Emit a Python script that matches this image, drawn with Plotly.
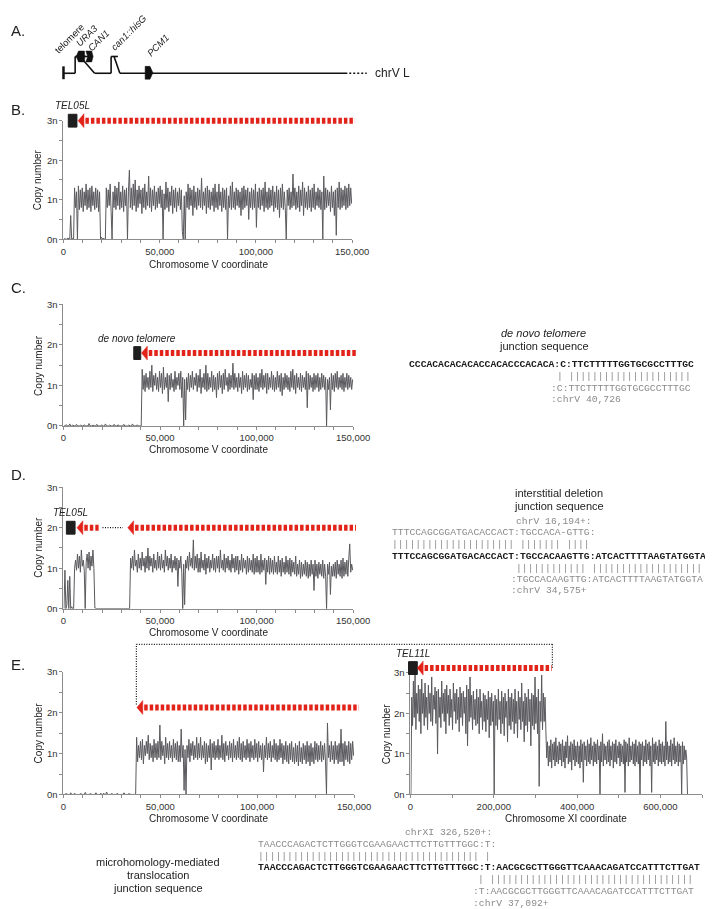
import numpy as np
import plotly.graph_objects as go

W, H = 713, 909

# ---------------- data ----------------
chrV_bins = np.arange(250, 150000, 500)       # 0.5 kb bins along chrV (0-150 kb)
chrXI_bins = np.arange(1000, 667000, 2000)    # 2 kb bins along chrXI (0-666 kb)

B_copy = [
    0.0, 0.02, 0.0, 0.0, 0.03, 0.0, 0.0, 0.6, 0.0, 0.02, 0.0, 1.3, 0.8, 1.2, 0.0, 1.35, 0.75, 1.25, 0.8, 1.3,
    0.7, 1.2, 0.85, 1.4, 0.75, 1.25, 0.8, 1.3, 0.7, 1.35, 0.85, 1.2, 0.75, 1.3, 0.8, 1.25, 0.7, 1.2, 0.0, 0.05,
    0.0, 0.03, 0.0, 0.0, 1.3, 0.8, 1.25, 0.85, 1.4, 0.7, 0.0, 1.2, 0.8, 1.35, 0.75, 1.3, 0.85, 1.45, 0.75, 1.2,
    0.8, 1.35, 0.7, 1.25, 0.85, 1.3, 0.0, 1.2, 1.75, 0.8, 1.3, 0.75, 1.4, 0.85, 1.5, 0.7, 1.25, 0.8, 1.35, 0.9,
    1.25, 0.65, 1.3, 0.8, 1.4, 0.75, 1.2, 0.85, 1.6, 0.8, 1.3, 0.7, 1.25, 0.85, 1.35, 0.75, 1.2, 0.8, 1.3, 0.9,
    1.35, 0.8, 1.25, 0.0, 1.15, 0.75, 1.45, 0.8, 1.3, 0.7, 1.2, 0.85, 1.35, 0.65, 1.25, 0.8, 1.3, 0.7, 1.2, 0.85,
    1.3, 0.75, 1.25, 0.2, 0.0, 1.1, 0.0, 1.2, 0.8, 1.4, 0.75, 1.3, 0.85, 1.25, 0.6, 1.35, 0.8, 1.2, 0.75, 1.3,
    0.85, 1.25, 0.8, 1.55, 0.75, 1.2, 0.85, 1.3, 0.65, 1.35, 0.8, 1.25, 0.75, 1.2, 0.85, 1.3, 0.7, 1.4, 0.8, 1.2,
    0.75, 1.4, 0.85, 1.2, 0.7, 1.3, 0.8, 1.25, 0.75, 1.3, 0.0, 1.1, 0.8, 1.35, 0.75, 1.45, 0.8, 1.2, 0.75, 1.3,
    0.85, 1.25, 0.8, 1.2, 0.6, 1.3, 0.75, 1.35, 0.8, 1.25, 0.85, 1.3, 0.5, 1.2, 0.8, 1.3, 0.75, 1.25, 0.8, 1.4,
    0.3, 1.2, 0.8, 1.3, 0.75, 1.25, 0.85, 1.3, 0.7, 1.45, 0.8, 1.2, 0.75, 1.3, 0.8, 1.25, 0.85, 1.35, 0.7, 1.2,
    0.8, 1.35, 0.75, 1.25, 0.55, 1.3, 0.8, 1.4, 0.75, 1.2, 0.8, 0.0, 1.25, 0.85, 1.3, 0.75, 1.2, 0.8, 1.65, 0.85,
    1.3, 0.75, 1.2, 0.8, 1.35, 0.7, 1.25, 0.85, 1.45, 0.6, 1.3, 0.8, 1.2, 0.75, 1.35, 0.8, 1.25, 0.7, 1.3, 0.8,
    1.4, 0.75, 1.2, 0.85, 1.3, 0.8, 1.25, 0.75, 1.2, 0.0, 1.6, 0.75, 1.3, 0.8, 1.25, 0.85, 1.2, 0.7, 1.35, 0.8,
    1.2, 0.6, 1.25, 0.1, 1.3, 0.8, 1.45, 0.75, 1.3, 0.8, 1.25, 0.85, 1.35, 0.75, 1.3, 0.8, 1.4, 0.85, 1.3, 0.9,
]

C_copy = [
    0.0, 0.0, 0.03, 0.0, 0.0, 0.0, 0.05, 0.0, 0.0, 0.02, 0.0, 0.0, 0.0, 0.04, 0.0, 0.0, 0.0, 0.02, 0.0, 0.0,
    0.0, 0.03, 0.0, 0.0, 0.0, 0.0, 0.06, 0.0, 0.0, 0.0, 0.02, 0.0, 0.0, 0.0, 0.04, 0.0, 0.0, 0.0, 0.0, 0.03,
    0.0, 0.0, 0.0, 0.05, 0.0, 0.0, 0.0, 0.02, 0.0, 0.0, 0.0, 0.0, 0.04, 0.0, 0.0, 0.0, 0.03, 0.0, 0.0, 0.0,
    0.0, 0.0, 0.04, 0.0, 0.0, 0.0, 0.0, 0.02, 0.0, 0.0, 0.0, 0.05, 0.0, 0.0, 0.0, 0.0, 0.03, 0.0, 0.0, 0.0,
    0.0, 1.4, 0.9, 1.25, 0.85, 1.3, 0.95, 1.2, 0.9, 1.35, 0.95, 1.5, 0.85, 1.25, 1.0, 1.3, 0.9, 1.2, 0.85, 1.35,
    0.95, 1.3, 0.8, 1.45, 0.9, 1.2, 0.95, 1.3, 0.6, 1.25, 0.9, 1.3, 0.95, 1.15, 0.85, 1.35, 0.9, 1.2, 1.0, 1.3,
    0.9, 1.35, 0.7, 1.2, 0.0, 1.15, 0.15, 1.2, 0.9, 1.3, 0.85, 1.25, 0.95, 1.35, 0.9, 1.2, 1.0, 1.3, 0.85, 1.25,
    0.95, 1.4, 0.8, 1.2, 0.95, 1.3, 0.9, 1.5, 0.85, 1.3, 0.9, 1.2, 0.95, 1.35, 0.85, 1.25, 0.9, 1.2, 0.7, 1.3,
    0.9, 1.35, 0.95, 1.25, 0.8, 1.3, 0.9, 1.4, 1.0, 1.2, 0.85, 1.3, 0.9, 1.25, 0.95, 1.55, 0.9, 1.3, 0.95, 1.2,
    0.85, 1.3, 0.95, 1.2, 0.8, 1.35, 0.9, 1.25, 0.95, 1.3, 0.85, 1.25, 0.9, 1.15, 0.95, 1.3, 0.65, 1.25, 0.9, 1.3,
    0.9, 1.2, 0.85, 1.3, 0.95, 1.4, 0.9, 1.25, 0.95, 1.3, 0.8, 1.3, 0.9, 1.2, 0.95, 1.35, 0.9, 1.25, 0.85, 1.2,
    0.9, 1.35, 0.95, 1.25, 0.85, 1.3, 0.75, 1.2, 0.9, 1.3, 0.95, 1.25, 0.9, 1.2, 0.85, 1.35, 0.95, 1.4, 0.9, 1.25,
    0.8, 1.3, 0.95, 1.2, 0.9, 1.3, 0.85, 1.25, 0.95, 1.2, 0.9, 1.35, 0.45, 1.3, 0.9, 1.25, 0.95, 1.2, 0.85, 1.3,
    0.9, 1.25, 0.95, 1.3, 0.85, 1.2, 0.9, 1.3, 0.95, 1.25, 0.9, 1.2, 0.0, 1.15, 0.9, 1.2, 0.4, 1.3, 0.9, 1.25,
    0.85, 1.3, 0.95, 1.35, 0.9, 1.2, 0.95, 1.25, 0.9, 1.3, 0.85, 1.2, 0.95, 1.3, 0.9, 1.25, 0.95, 1.2, 0.9, 1.15,
]

D_copy = [
    0.0, 0.95, 0.0, 0.1, 0.7, 0.0, 0.8, 0.0, 0.05, 0.0, 0.0, 1.0, 1.2, 0.95, 1.35, 1.0, 1.3, 0.9, 1.45, 1.05,
    1.2, 0.95, 0.0, 1.15, 1.35, 1.0, 1.4, 0.95, 1.3, 1.05, 1.45, 1.0, 0.02, 0.0, 0.0, 0.0, 0.0, 0.0, 0.0, 0.0,
    0.0, 0.0, 0.0, 0.0, 0.0, 0.0, 0.0, 0.0, 0.0, 0.0, 0.0, 0.0, 0.0, 0.0, 0.0, 0.0, 0.0, 0.0, 0.0, 0.0,
    0.0, 0.0, 0.0, 0.0, 0.0, 0.0, 0.0, 0.0, 0.0, 1.25, 1.0, 1.3, 0.95, 1.45, 1.05, 1.2, 0.9, 1.35, 1.0, 1.25,
    0.95, 1.4, 1.05, 1.25, 0.9, 1.3, 1.0, 1.5, 0.95, 1.3, 1.05, 1.25, 0.9, 1.35, 1.0, 1.2, 0.95, 1.4, 1.0, 1.3,
    0.95, 1.35, 1.0, 1.2, 0.9, 1.45, 1.05, 1.3, 0.95, 1.25, 1.0, 1.35, 0.9, 1.2, 1.0, 1.3, 0.95, 1.25, 0.55, 1.2,
    1.0, 1.3, 0.9, 0.0, 1.1, 0.1, 1.2, 1.0, 1.3, 0.95, 1.4, 1.05, 1.25, 1.0, 1.7, 0.95, 1.3, 1.0, 1.35, 0.9,
    1.25, 0.9, 1.4, 1.0, 1.2, 0.95, 1.35, 0.85, 1.25, 1.0, 1.3, 0.9, 1.2, 1.0, 1.35, 0.95, 1.25, 0.9, 1.3, 1.0,
    1.3, 0.9, 1.45, 1.0, 1.2, 0.95, 1.35, 0.9, 1.25, 1.0, 1.3, 0.95, 1.2, 0.9, 1.35, 1.0, 1.25, 0.9, 1.3, 0.95,
    1.3, 0.85, 1.2, 0.95, 1.35, 0.9, 1.25, 1.0, 1.2, 0.85, 1.3, 0.9, 1.25, 0.95, 1.2, 0.9, 1.35, 0.85, 1.25, 0.9,
    1.3, 0.9, 1.2, 0.85, 1.35, 0.9, 1.2, 0.95, 1.25, 0.6, 1.2, 0.9, 1.3, 0.85, 1.25, 0.9, 1.2, 0.85, 1.3, 0.9,
    1.15, 0.85, 1.3, 0.9, 1.2, 0.8, 1.25, 0.9, 1.15, 0.85, 1.3, 0.9, 1.2, 0.85, 1.25, 0.8, 1.2, 0.9, 1.15, 0.85,
    1.3, 0.8, 1.1, 0.85, 1.2, 0.75, 1.15, 0.8, 1.1, 0.85, 1.2, 0.8, 1.15, 0.75, 1.1, 0.8, 1.2, 0.85, 1.1, 0.45,
    1.2, 0.8, 1.1, 0.75, 1.15, 0.85, 1.1, 0.8, 1.2, 0.75, 1.1, 0.8, 0.0, 1.1, 0.85, 1.15, 0.35, 1.05, 0.8, 1.1,
    0.8, 1.15, 0.75, 1.2, 0.85, 1.1, 0.8, 1.2, 0.75, 1.25, 0.8, 1.15, 0.85, 1.2, 0.8, 1.25, 1.6, 0.9, 1.1, 0.95,
]

E_chrV_copy = [
    0.0, 0.0, 0.02, 0.0, 0.0, 0.0, 0.0, 0.04, 0.0, 0.0, 0.0, 0.03, 0.0, 0.0, 0.0, 0.0, 0.0, 0.02, 0.0, 0.0,
    0.0, 0.0, 0.05, 0.0, 0.0, 0.0, 0.0, 0.02, 0.0, 0.0, 0.0, 0.0, 0.0, 0.04, 0.0, 0.0, 0.0, 0.0, 0.03, 0.0,
    0.0, 0.03, 0.0, 0.0, 0.06, 0.0, 0.0, 0.0, 0.0, 0.02, 0.0, 0.0, 0.0, 0.0, 0.0, 0.03, 0.0, 0.0, 0.0, 0.0,
    0.0, 0.0, 0.04, 0.0, 0.0, 0.0, 0.0, 0.02, 0.0, 0.0, 0.0, 0.0, 0.0, 0.0, 0.0, 1.4, 0.8, 1.2, 0.9, 1.3,
    0.85, 1.35, 0.75, 1.2, 0.95, 1.3, 1.0, 1.45, 0.85, 1.25, 0.9, 1.2, 0.8, 1.35, 0.9, 1.25, 0.85, 1.3, 0.9, 1.7,
    0.85, 1.3, 0.95, 1.2, 0.75, 1.4, 0.9, 1.25, 0.85, 1.3, 0.9, 1.2, 0.8, 1.35, 0.9, 1.25, 0.85, 1.3, 0.8, 1.2,
    0.8, 1.6, 0.9, 1.2, 0.1, 1.1, 0.0, 1.2, 0.9, 1.35, 0.8, 1.25, 0.95, 1.3, 0.85, 1.2, 0.9, 1.4, 0.85, 1.25,
    0.9, 1.4, 0.85, 1.2, 0.9, 1.3, 0.75, 1.25, 0.8, 1.2, 0.9, 1.35, 0.6, 1.25, 0.9, 1.3, 0.85, 1.2, 0.9, 1.35,
    0.85, 1.2, 0.9, 1.45, 0.85, 1.25, 0.8, 1.3, 0.95, 1.2, 0.85, 1.3, 0.9, 1.25, 0.8, 1.35, 0.9, 1.2, 0.85, 1.3,
    0.9, 1.4, 0.85, 1.25, 0.8, 1.3, 0.9, 1.2, 0.85, 1.35, 0.9, 1.25, 0.8, 1.3, 0.9, 1.2, 0.85, 1.35, 0.9, 1.25,
    0.8, 1.3, 0.9, 1.2, 0.85, 1.25, 0.55, 1.2, 0.9, 1.4, 0.85, 1.25, 0.9, 1.3, 0.8, 1.2, 0.9, 1.35, 0.85, 1.25,
    0.8, 1.2, 0.85, 1.35, 0.9, 1.25, 0.75, 1.2, 0.85, 1.3, 0.8, 1.2, 0.75, 1.25, 0.85, 1.3, 0.8, 1.15, 0.75, 1.25,
    0.8, 1.2, 0.7, 1.3, 0.8, 1.15, 0.75, 1.25, 0.85, 1.2, 0.75, 1.3, 0.8, 1.2, 0.7, 1.25, 0.8, 1.15, 0.75, 1.3,
    0.85, 1.25, 0.8, 1.2, 0.85, 1.3, 0.8, 1.2, 0.85, 1.25, 0.8, 0.0, 1.75, 0.9, 1.2, 0.8, 1.3, 0.85, 1.2, 0.75,
    1.3, 0.85, 1.2, 0.75, 1.25, 0.8, 1.6, 0.8, 1.25, 0.7, 1.3, 0.85, 1.2, 0.8, 1.3, 0.75, 1.25, 0.85, 1.3, 0.95,
]

E_chrXI_copy = [
    0.0, 2.4, 1.7, 2.8, 1.9, 2.95, 1.6, 2.5, 2.0, 2.7, 1.8, 2.6, 1.5, 2.85, 2.0, 2.5, 1.7, 2.75, 1.9, 2.4,
    1.6, 2.7, 2.0, 2.5, 1.8, 2.9, 1.7, 2.45, 2.1, 2.65, 1.75, 2.55, 1.0, 2.6, 1.9, 2.4, 1.65, 2.8, 2.0, 2.5,
    1.8, 2.6, 1.5, 2.7, 2.0, 2.45, 1.7, 2.6, 1.9, 2.35, 1.6, 2.75, 2.05, 2.5, 1.75, 2.6, 1.85, 2.4, 1.55, 2.65,
    1.9, 2.5, 1.7, 2.55, 2.0, 2.4, 1.5, 2.7, 1.2, 2.6, 1.8, 2.9, 1.9, 2.45, 1.6, 2.55, 1.85, 2.35, 1.7, 2.6,
    1.75, 2.4, 1.5, 2.6, 1.9, 2.3, 1.6, 2.5, 1.8, 2.45, 1.55, 2.35, 1.85, 2.55, 1.4, 2.4, 1.7, 2.5, 1.8, 2.3,
    0.0, 2.45, 1.7, 2.35, 1.6, 2.6, 1.85, 2.3, 1.5, 2.55, 1.75, 2.4, 1.45, 2.5, 1.9, 2.3, 1.3, 2.6, 1.7, 2.4,
    1.6, 2.5, 1.8, 2.35, 1.5, 2.6, 1.75, 2.3, 1.4, 2.55, 1.85, 2.4, 1.6, 2.75, 1.8, 2.3, 1.3, 2.5, 1.7, 2.4,
    1.55, 2.6, 1.8, 2.35, 1.2, 2.5, 1.7, 2.45, 1.6, 2.9, 1.75, 2.4, 1.5, 2.6, 0.2, 2.3, 1.8, 2.95, 1.6, 2.5,
    1.8, 2.4, 1.6, 0.9, 1.3, 0.7, 1.2, 0.8, 1.35, 0.65, 1.25, 0.85, 1.3, 0.7, 1.4, 0.8, 1.2, 0.75, 1.3, 0.85,
    1.25, 0.7, 1.35, 0.8, 1.2, 0.65, 1.3, 0.9, 1.45, 0.75, 1.2, 0.8, 1.3, 0.6, 1.25, 0.85, 1.35, 0.7, 1.2, 0.8,
    1.3, 0.75, 1.2, 0.65, 1.35, 0.8, 1.25, 0.3, 1.3, 0.85, 1.2, 0.7, 1.35, 0.8, 1.25, 0.75, 1.4, 0.85, 1.2, 0.7,
    1.3, 0.8, 1.25, 0.75, 1.35, 0.85, 1.2, 0.0, 1.3, 0.8, 1.5, 0.7, 1.25, 0.85, 1.2, 0.75, 1.3, 0.8, 1.35, 0.7,
    1.2, 0.85, 1.3, 0.65, 1.25, 0.8, 1.35, 0.75, 1.2, 0.9, 1.3, 0.7, 1.25, 0.8, 1.2, 0.75, 1.35, 0.05, 1.3, 0.8,
    1.25, 0.7, 1.4, 0.8, 1.2, 0.85, 1.3, 0.75, 1.25, 0.7, 1.35, 0.8, 1.2, 0.75, 1.3, 0.0, 1.25, 0.85, 1.3, 0.7,
    1.2, 0.8, 1.35, 0.75, 1.25, 0.85, 1.3, 0.7, 1.2, 0.05, 1.4, 0.8, 1.25, 0.75, 1.3, 0.85, 1.2, 0.7, 1.35, 0.8,
    1.25, 0.75, 1.3, 0.8, 1.2, 0.7, 1.8, 0.85, 1.3, 0.75, 1.2, 0.8, 1.35, 0.7, 1.25, 0.85, 1.4, 0.75, 1.2, 0.8,
    1.3, 0.7, 1.25, 0.8, 1.2, 0.0, 1.3, 0.75, 1.2, 0.85, 1.1, 0.9, 0.0,
]

copy_ticks = [0, 1, 2, 3]
copy_labels = ["0n", "1n", "2n", "3n"]
chrV_ticks = [0, 50000, 100000, 150000]
chrV_labels = ["0", "50,000", "100,000", "150,000"]
chrXI_ticks = [0, 200000, 400000, 600000]
chrXI_labels = ["0", "200,000", "400,000", "600,000"]

# telomere blocks (bp start, bp end, copy level); retained-arm arrows (tip bp, end bp, copy level)
B_tel = (2500, 7000, 3.0)
B_arrow = (7600, 151500, 3.0)
C_tel = (36400, 40000, 1.8)
C_arrow = (40400, 152000, 1.8)
D_tel = (1500, 6000, 2.0)
D_arrows = [(7000, 18200, 2.0), (33300, 151500, 2.0)]
D_gap = (20200, 30800, 2.0)
E_arrow_V = (37900, 152500, 2.13)
E_tel_XI = (-4700, 16400, 3.12)
E_arrow_XI = (16400, 339000, 3.12)

# junction sequences
C_junction = "CCCACACACACACCACACCCACACA:C:TTCTTTTTGGTGCGCCTTTGC"
C_match = "| " + "|" * 21
C_ref = ":C:TTCTTTTTGGTGCGCCTTTGC"
C_ref_pos = ":chrV 40,726"

D_up_pos = "chrV 16,194+:"
D_up = "TTTCCAGCGGATGACACCACT:TGCCACA-GTTG:"
D_match1 = "|" * 21 + " " + "|" * 7 + " " + "|" * 4
D_junction = "TTTCCAGCGGATGACACCACT:TGCCACAAGTTG:ATCACTTTTAAGTATGGTA"
D_match2 = "|" * 12 + " " + "|" * 19
D_down = ":TGCCACAAGTTG:ATCACTTTTAAGTATGGTA"
D_down_pos = ":chrV 34,575+"

E_up_pos = "chrXI 326,520+:"
E_up = "TAACCCAGACTCTTGGGTCGAAGAACTTCTTGTTTGGC:T:"
E_match1 = "|" * 38 + " |"
E_junction = "TAACCCAGACTCTTGGGTCGAAGAACTTCTTGTTTGGC:T:AACGCGCTTGGGTTCAAACAGATCCATTTCTTGAT"
E_match2 = "| " + "|" * 35
E_down = ":T:AACGCGCTTGGGTTCAAACAGATCCATTTCTTGAT"
E_down_pos = ":chrV 37,092+"

# ---------------- styling ----------------
SANS = "Arial, Liberation Sans, Helvetica, sans-serif"
MONO = "Liberation Mono, Courier New, monospace"
RED = "#e2231a"
TRACE = "#5a5a5e"
AXIS = "#8c8c8c"
GRAY_TXT = "#8a8a8a"
CHAR_W = 5.82
MONO_SIZE = 9.7

fig = go.Figure()

axis_style = dict(showline=True, linecolor=AXIS, linewidth=1, ticks="outside", ticklen=3,
                  tickcolor=AXIS, tickwidth=1, showgrid=False, zeroline=False,
                  tickfont=dict(size=9.5, color="#333", family=SANS), fixedrange=True)


def main_axes(n, box, xr, xticks, xlabels, minor_dx):
    x0, x1, y0, y1 = box
    s = "" if n == 1 else str(n)
    fig.update_layout(**{
        f"xaxis{s}": dict(domain=[x0 / W, x1 / W], range=list(xr), anchor=f"y{s}",
                          tickmode="array", tickvals=xticks, ticktext=xlabels,
                          minor=dict(tickmode="linear", tick0=0, dtick=minor_dx, ticks="outside",
                                     ticklen=3, tickcolor=AXIS),
                          **axis_style),
        f"yaxis{s}": dict(domain=[1 - y1 / H, 1 - y0 / H], range=[0, 3], anchor=f"x{s}",
                          tickmode="array", tickvals=copy_ticks, ticktext=copy_labels,
                          minor=dict(tickmode="linear", tick0=0, dtick=0.5, ticks="outside",
                                     ticklen=3, tickcolor=AXIS),
                          **axis_style),
    })


def overlay_axes(n, box, xr, pad=(22, 12, 26, 2)):
    # invisible axes with the panel's scale but a larger box, so arrows and blocks are not clipped
    x0, x1, y0, y1 = box
    l, r, t, b = pad
    r = min(r, W - x1)
    sx = (xr[1] - xr[0]) / (x1 - x0)
    sy = 3.0 / (y1 - y0)
    fig.update_layout(**{
        f"xaxis{n}": dict(domain=[(x0 - l) / W, (x1 + r) / W],
                          range=[xr[0] - l * sx, xr[1] + r * sx], anchor=f"y{n}",
                          visible=False, fixedrange=True),
        f"yaxis{n}": dict(domain=[1 - (y1 + b) / H, 1 - (y0 - t) / H],
                          range=[-b * sy, 3 + t * sy], anchor=f"x{n}",
                          visible=False, fixedrange=True),
    })
    return sx, sy


def copy_trace(n, x, y):
    s = "" if n == 1 else str(n)
    fig.add_trace(go.Scatter(x=x, y=y, mode="lines", line=dict(color=TRACE, width=1),
                             xaxis=f"x{s}", yaxis=f"y{s}", hoverinfo="skip"))


def red_arrow(n, arrow, sx, sy):
    tip, end, y = arrow
    hw, hh = 6 * sx, 7 * sy
    fig.add_trace(go.Scatter(x=[tip + hw + 1.5 * sx, end], y=[y, y], mode="lines",
                             line=dict(color=RED, width=6, dash="3.5px,2px"),
                             xaxis=f"x{n}", yaxis=f"y{n}", hoverinfo="skip"))
    fig.add_trace(go.Scatter(x=[tip, tip + hw, tip + hw, tip], y=[y, y + hh, y - hh, y],
                             mode="lines", fill="toself", fillcolor=RED,
                             line=dict(color=RED, width=0.5),
                             xaxis=f"x{n}", yaxis=f"y{n}", hoverinfo="skip"))


def tel_box(n, tel, sy, label=None):
    x0, x1, y = tel
    hh = 6.5 * sy
    fig.add_trace(go.Scatter(x=[x0, x1, x1, x0, x0], y=[y - hh, y - hh, y + hh, y + hh, y - hh],
                             mode="lines", fill="toself", fillcolor="#1e1e1e",
                             line=dict(color="#1e1e1e", width=1),
                             xaxis=f"x{n}", yaxis=f"y{n}", hoverinfo="skip"))
    if label:
        fig.add_annotation(x=(x0 + x1) / 2, y=y + hh, xref=f"x{n}", yref=f"y{n}",
                           text=f"<i>{label}</i>", showarrow=False,
                           yanchor="bottom", yshift=1, font=dict(size=10, color="#222", family=SANS))


def text(x, y, s, size=10, color="#222", xanchor="center", angle=0, family=SANS):
    fig.add_annotation(x=x / W, y=1 - y / H, xref="paper", yref="paper", text=s, showarrow=False,
                       xanchor=xanchor, yanchor="middle", textangle=angle, borderpad=0, borderwidth=0,
                       font=dict(size=size, color=color, family=family))


def seq_rows(x0, rows):
    for col, y, s, bold in rows:
        text(x0 + col * CHAR_W, y, f"<b>{s}</b>" if bold else s, size=MONO_SIZE,
             color="#1a1a1a" if bold else GRAY_TXT, xanchor="left", family=MONO)


def seg(x0, y0, x1, y1, width=1.6, dash=None):
    fig.add_shape(type="line", xref="paper", yref="paper", x0=x0 / W, y0=1 - y0 / H,
                  x1=x1 / W, y1=1 - y1 / H, line=dict(color="#111", width=width, dash=dash))


def poly(points):
    path = "M " + " L ".join(f"{x / W:.5f},{1 - y / H:.5f}" for x, y in points) + " Z"
    fig.add_shape(type="path", path=path, xref="paper", yref="paper",
                  fillcolor="#111", line=dict(color="#111", width=0.5))


# ---------------- panel A: schematic ----------------
text(0, 17, "A.", size=15, xanchor="left")
seg(54, 53, 54, 66, width=2.5)
seg(54, 60, 66, 60)
seg(66, 60, 66, 43)
seg(66, 43, 84, 43)
seg(71, 43, 86, 60)
seg(86, 60, 103, 60)
seg(103, 60, 103, 43)
seg(103, 43, 110, 43)
seg(106, 43, 112, 60)
seg(112, 60, 346, 60)
seg(348, 60, 366, 60, width=1.4, dash="2px,2px")
poly([(67, 43), (69.5, 37.5), (75.5, 37.5), (76, 43), (75.5, 48.5), (69.5, 48.5)])
poly([(77, 37.5), (83, 37.5), (84.5, 43), (83, 48.5), (77, 48.5), (79, 43)])
poly([(138, 53), (143, 53), (146, 59.5), (143, 66), (138, 66)])
text(60, 25, "telomere", size=9.5, angle=-45)
text(78, 22, "<i>URA3</i>", size=9.5, angle=-45)
text(90, 27, "<i>CAN1</i>", size=9.5, angle=-45)
text(121, 19, "<i>can1::hisG</i>", size=9.5, angle=-45)
text(151, 32, "<i>PCM1</i>", size=9.5, angle=-45)
text(375, 60, "chrV L", size=12, xanchor="left")

# ---------------- copy-number panels ----------------
box_B = (54, 351, 108, 228)
box_C = (54, 352, 294, 417)
box_D = (54, 352, 479, 602)
box_EL = (54, 353, 666, 790)
box_ER = (411, 711, 667, 790)
chrV_range = (0, 150000)
chrXI_range = (0, 700000)

main_axes(1, box_B, chrV_range, chrV_ticks, chrV_labels, 10000)
main_axes(2, box_C, chrV_range, chrV_ticks, chrV_labels, 10000)
main_axes(3, box_D, chrV_range, chrV_ticks, chrV_labels, 10000)
main_axes(4, box_EL, chrV_range, chrV_ticks, chrV_labels, 10000)
main_axes(5, box_ER, chrXI_range, chrXI_ticks, chrXI_labels, 100000)

copy_trace(1, chrV_bins, B_copy)
copy_trace(2, chrV_bins, C_copy)
copy_trace(3, chrV_bins, D_copy)
copy_trace(4, chrV_bins, E_chrV_copy)
copy_trace(5, chrXI_bins, E_chrXI_copy)

sxB, syB = overlay_axes(6, box_B, chrV_range)
sxC, syC = overlay_axes(7, box_C, chrV_range)
sxD, syD = overlay_axes(8, box_D, chrV_range)
sxE, syE = overlay_axes(9, box_EL, chrV_range)
sxX, syX = overlay_axes(10, box_ER, chrXI_range)

tel_box(6, B_tel, syB, "TEL05L")
red_arrow(6, B_arrow, sxB, syB)
tel_box(7, C_tel, syC, "de novo telomere")
red_arrow(7, C_arrow, sxC, syC)
tel_box(8, D_tel, syD, "TEL05L")
for a in D_arrows:
    red_arrow(8, a, sxD, syD)
fig.add_trace(go.Scatter(x=[D_gap[0], D_gap[1]], y=[D_gap[2], D_gap[2]], mode="lines",
                         line=dict(color="#111", width=1.2, dash="1px,1.5px"),
                         xaxis="x8", yaxis="y8", hoverinfo="skip"))
red_arrow(9, E_arrow_V, sxE, syE)
tel_box(10, E_tel_XI, syX, "TEL11L")
red_arrow(10, E_arrow_XI, sxX, syX)

# translocation connector
for a, b in [((129, 699), (129, 638)), ((129, 638), (557, 638)), ((557, 638), (557, 662))]:
    seg(a[0], a[1], b[0], b[1], width=1.2, dash="1px,1.5px")

# panel letters and axis titles
for lbl, y in [("B.", 97), ("C.", 277), ("D.", 466), ("E.", 658)]:
    text(0, y, lbl, size=15, xanchor="left")
for y in [254, 441, 626, 814]:
    text(203, y, "Chromosome V coordinate", size=10)
text(571, 814, "Chromosome XI coordinate", size=10)
for x, y in [(28, 168), (28, 356), (28, 540), (28, 728), (386, 729)]:
    text(x, y, "Copy number", size=10, angle=-90)

# junction sequence blocks
text(548, 323, "<i>de novo telomere</i>", size=11)
text(548, 336, "junction sequence", size=11)
seq_rows(410, [(0, 355, C_junction, True), (26, 367, C_match, False),
               (25, 379, C_ref, False), (25, 390, C_ref_pos, False)])

text(564, 485, "interstitial deletion", size=11)
text(564, 498, "junction sequence", size=11)
seq_rows(392, [(22, 514, D_up_pos, False), (0, 525, D_up, False), (0, 537, D_match1, False),
               (0, 549, D_junction, True), (22, 561, D_match2, False),
               (21, 572, D_down, False), (21, 584, D_down_pos, False)])

text(151, 858, "microhomology-mediated", size=11)
text(151, 872, "translocation", size=11)
text(151, 885, "junction sequence", size=11)
seq_rows(254, [(26, 829, E_up_pos, False), (0, 841, E_up, False), (0, 853, E_match1, False),
               (0, 864, E_junction, True), (39, 876, E_match2, False),
               (38, 888, E_down, False), (38, 900, E_down_pos, False)])

fig.update_layout(width=W, height=H, margin=dict(l=0, r=0, t=0, b=0), autosize=False,
                  paper_bgcolor="white", plot_bgcolor="rgba(0,0,0,0)", showlegend=False,
                  font=dict(family=SANS, color="#222"))

# render annotation text with grayscale antialiasing (thin '|' glyphs otherwise get colour fringes)
gray_text = ("document.querySelectorAll('g.annotation').forEach(function (g) {"
             " g.style.filter = 'grayscale(100%)'; });")

fig.write_html("out.html", post_script=gray_text)
